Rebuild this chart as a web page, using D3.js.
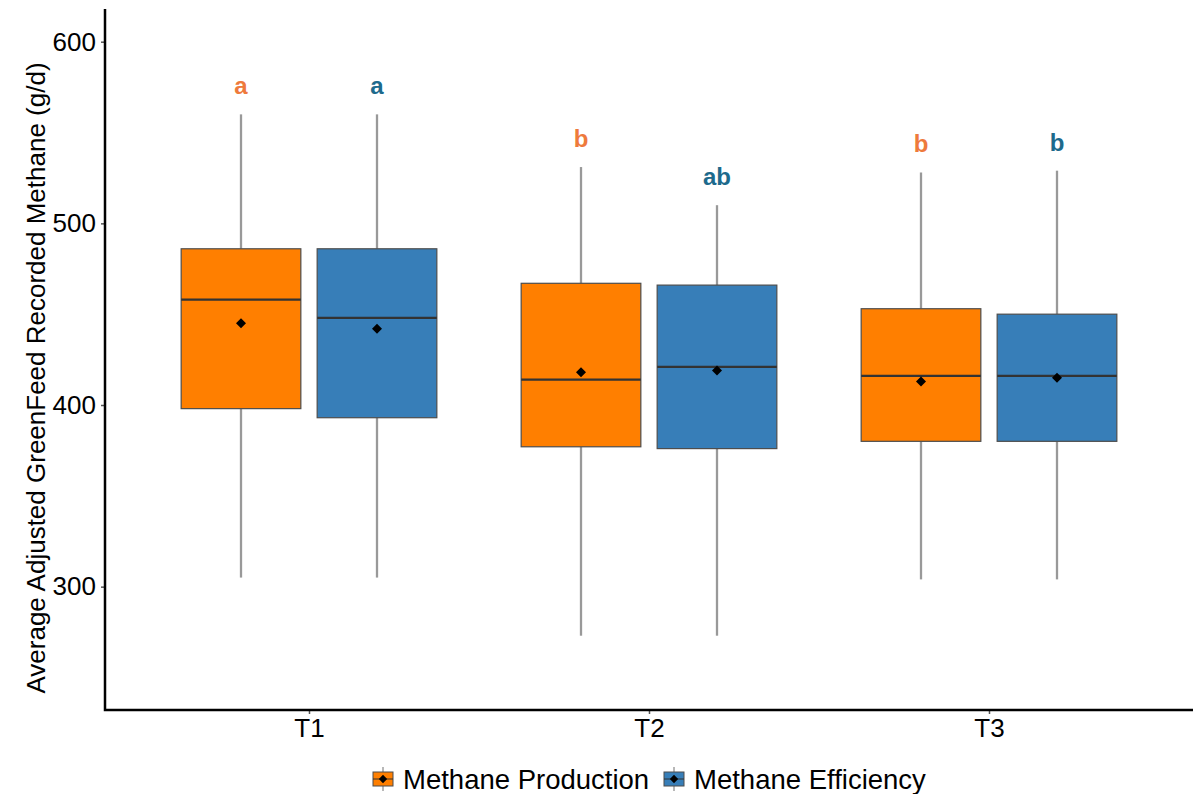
<!DOCTYPE html>
<html>
<head>
<meta charset="utf-8">
<script src="https://cdn.jsdelivr.net/npm/d3@7"></script>
<style>
body { margin: 0; background: #fff; }
text { font-family: "Liberation Sans", Arial, sans-serif; }
</style>
</head>
<body>
<script>
// data
var treatments = ["T1", "T2", "T3"];
var groups = ["Methane Production", "Methane Efficiency"];
var whiskerLow = [[305, 305], [273, 273], [304, 304]];
var q1 = [[398, 393], [377, 376], [380, 380]];
var median = [[458, 448], [414, 421], [416, 416]];
var q3 = [[486, 486], [467, 466], [453, 450]];
var whiskerHigh = [[560, 560], [531, 510], [528, 529]];
var means = [[445, 442], [418, 419], [413, 415]];
var letters = [["a", "a"], ["b", "ab"], ["b", "b"]];
var yTicks = [300, 400, 500, 600];

var fills = ["#FF7F00", "#377EB8"];
var letterColors = ["#EE7A3C", "#1D6A8C"];

var W = 1204, H = 794;
var plotLeft = 105, plotRight = 1193, plotTop = 9, plotBottom = 710;

var svg = d3.select("body").append("svg")
  .attr("width", W)
  .attr("height", H);

var x = d3.scalePoint().domain(treatments).range([plotLeft, plotRight]).padding(0.6);
var y = d3.scaleLinear().domain([232.1, 618]).range([plotBottom, plotTop]);
var step = x.step();
var dodge = d3.scaleBand().domain(groups).range([-0.4 * step, 0.4 * step]);
var boxW = 0.352 * step;

var rows = [];
treatments.forEach(function(t, i) {
  groups.forEach(function(g, j) {
    rows.push({t: t, g: g, j: j,
      lo: whiskerLow[i][j], q1: q1[i][j], med: median[i][j], q3: q3[i][j],
      hi: whiskerHigh[i][j], mean: means[i][j], letter: letters[i][j]});
  });
});

function cx(d) { return x(d.t) + dodge(d.g) + dodge.bandwidth() / 2; }

var box = svg.append("g").selectAll("g").data(rows).enter().append("g");

box.append("line")
  .attr("x1", cx).attr("x2", cx)
  .attr("y1", function(d) { return y(d.hi); })
  .attr("y2", function(d) { return y(d.q3); })
  .attr("stroke", "#999").attr("stroke-width", 2.3);
box.append("line")
  .attr("x1", cx).attr("x2", cx)
  .attr("y1", function(d) { return y(d.q1); })
  .attr("y2", function(d) { return y(d.lo); })
  .attr("stroke", "#999").attr("stroke-width", 2.3);

box.append("rect")
  .attr("x", function(d) { return cx(d) - boxW / 2; })
  .attr("y", function(d) { return y(d.q3); })
  .attr("width", boxW)
  .attr("height", function(d) { return y(d.q1) - y(d.q3); })
  .attr("fill", function(d) { return fills[d.j]; })
  .attr("stroke", "#4d4d4d").attr("stroke-width", 1.2);

box.append("line")
  .attr("x1", function(d) { return cx(d) - boxW / 2; })
  .attr("x2", function(d) { return cx(d) + boxW / 2; })
  .attr("y1", function(d) { return y(d.med); })
  .attr("y2", function(d) { return y(d.med); })
  .attr("stroke", "#333").attr("stroke-width", 2.2);

box.append("path")
  .attr("d", d3.symbol(d3.symbolDiamond2, 64))
  .attr("transform", function(d) { return "translate(" + cx(d) + "," + y(d.mean) + ")"; })
  .attr("fill", "#000");

box.append("text")
  .attr("x", cx)
  .attr("y", function(d) { return y(d.hi) - 20; })
  .attr("text-anchor", "middle")
  .attr("font-size", 24).attr("font-weight", "bold")
  .attr("fill", function(d) { return letterColors[d.j]; })
  .text(function(d) { return d.letter; });

// axes
var yAxis = svg.append("g")
  .attr("transform", "translate(" + plotLeft + ",0)")
  .call(d3.axisLeft(y).tickValues(yTicks).tickSize(4).tickPadding(5));
yAxis.select(".domain").remove();
yAxis.selectAll(".tick line").attr("stroke", "#555").attr("stroke-width", 1.5);
yAxis.selectAll(".tick text").attr("font-size", 26).attr("fill", "#000")
  .attr("font-family", "Liberation Sans, Arial, sans-serif");

var xAxis = svg.append("g")
  .attr("transform", "translate(0," + plotBottom + ")")
  .call(d3.axisBottom(x).tickSize(4).tickPadding(5));
xAxis.select(".domain").remove();
xAxis.selectAll(".tick line").attr("stroke", "#555").attr("stroke-width", 1.5);
xAxis.selectAll(".tick text").attr("font-size", 26).attr("fill", "#000")
  .attr("font-family", "Liberation Sans, Arial, sans-serif");

svg.append("path")
  .attr("d", "M" + plotLeft + "," + plotTop + "V" + plotBottom + "H" + plotRight)
  .attr("fill", "none").attr("stroke", "#000").attr("stroke-width", 2.5);

svg.append("text")
  .attr("transform", "translate(45,378) rotate(-90)")
  .attr("text-anchor", "middle")
  .attr("font-size", 26)
  .text("Average Adjusted GreenFeed Recorded Methane (g/d)");

// legend
var legend = svg.append("g").attr("transform", "translate(0,779)");
var keyX = [373, 664];
groups.forEach(function(g, j) {
  var k = legend.append("g").attr("transform", "translate(" + keyX[j] + ",0)");
  k.append("line").attr("x1", 10).attr("x2", 10).attr("y1", -12).attr("y2", 12)
    .attr("stroke", "#a0a0a0").attr("stroke-width", 1.5);
  k.append("rect").attr("x", 0).attr("y", -7).attr("width", 20).attr("height", 14)
    .attr("fill", fills[j]).attr("stroke", "#4d4d4d").attr("stroke-width", 1);
  k.append("line").attr("x1", 0).attr("x2", 20).attr("y1", 0).attr("y2", 0)
    .attr("stroke", "#333").attr("stroke-width", 1);
  k.append("path").attr("d", d3.symbol(d3.symbolDiamond2, 44))
    .attr("transform", "translate(10,0)").attr("fill", "#000");
  k.append("text").attr("x", 30).attr("y", 0).attr("dy", "0.35em")
    .attr("font-size", 27.5).text(g);
});
</script>
</body>
</html>
